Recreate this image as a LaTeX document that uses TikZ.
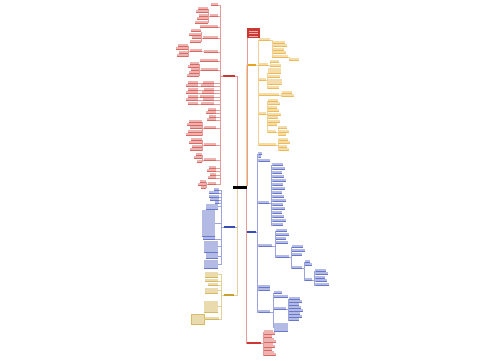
\documentclass[tikz,border=0pt]{standalone}
\definecolor{cR}{RGB}{205,55,50}
\definecolor{cO}{RGB}{228,165,35}
\definecolor{cB}{RGB}{55,75,185}
\definecolor{cY}{RGB}{200,160,45}
\tikzset{
  lf/.style={inner sep=0pt, outer sep=0pt, fill=#1!38, append after command={(\tikzlastnode.south west) edge[draw=#1!75, line width=0.35pt] (\tikzlastnode.south east)}},
  br/.style={inner sep=0pt, outer sep=0pt, fill=#1},
  cn/.style={draw=#1!50, line width=0.45pt},
}
\newcommand\nd[6]{\node[#6, minimum width={(#3-#2)*1pt}, minimum height={(#5*3-0.8)*1pt}, anchor=south west] (#1) at (#2,#4) {};}
\newcommand\kidsL[4]{\foreach \kk in {#4}{\draw[cn=#1] (#2) -- ++(-#3,0) |- (\kk);}}
\newcommand\kidsR[4]{\foreach \kk in {#4}{\draw[cn=#1] (#2) -- ++(#3,0) |- (\kk);}}
\newcommand\leavesL[7]{\foreach \yy [count=\ii] in {#7}{%
  \pgfmathsetmacro\xa{#5+mod(\ii*3,5)}%
  \nd{#4\ii}{\xa}{#6}{\yy}{1}{lf=#1}%
  \draw[cn=#1] (#2) -- ++(-#3,0) |- (#4\ii.south east);}}
\newcommand\leavesR[7]{\foreach \yy [count=\ii] in {#7}{%
  \pgfmathsetmacro\xb{#6-mod(\ii*3,5)}%
  \nd{#4\ii}{#5}{\xb}{\yy}{1}{lf=#1}%
  \draw[cn=#1] (#2) -- ++(#3,0) |- (#4\ii.south west);}}
\begin{document}
\begin{tikzpicture}[x=1pt,y=-1pt]
\fill[white] (0,0) rectangle (500,360);
\useasboundingbox (0,0) rectangle (500,360);
% root and title
\nd{root}{233}{247}{188.5}{1.2}{br=black}
\nd{title}{247}{260}{38}{3.6}{br=cR}
\foreach \yy in {31,33.5,36} \draw[cR!40, line width=0.8pt] (249,\yy) -- (258,\yy);
% main branches
\nd{RO}{247}{256}{66}{1}{br=cO}
\nd{RB}{247}{256}{233}{1}{br=cB}
\nd{RR}{247}{261}{344}{1}{br=cR}
\nd{LR}{223}{235}{77}{1}{br=cR}
\nd{LB}{224}{235}{228}{1}{br=cB}
\nd{LY}{224}{234}{296}{1}{br=cY}
\draw[cn=cR] (title.south west) -- (title.south west |- root.north);
\draw[cn=cO] ([xshift=-1pt]root.north east) |- (RO.west);
\draw[cn=cB] ([xshift=-1pt]root.south east) |- (RB.west);
\draw[cn=cR] ([xshift=-1pt]root.south east) |- (RR.west);
\draw[cn=cR] ([xshift=4pt]root.north west) |- (LR.east);
\draw[cn=cB] ([xshift=4pt]root.south west) |- (LB.east);
\draw[cn=cY] ([xshift=4pt]root.south west) |- (LY.east);
% ---------- right orange
\nd{o1}{259}{270}{40}{1}{lf=cO}
\nd{o2}{259}{268}{65}{1}{lf=cO}
\nd{o3}{259}{266}{80}{1}{lf=cO}
\nd{o4}{259}{279}{95}{1}{lf=cO}
\nd{o5}{259}{266}{114}{1}{lf=cO}
\nd{o6}{259}{276}{145}{1}{lf=cO}
\kidsR{cO}{RO.east}{2}{o1.south west,o2.south west,o3.south west,o4.south west,o5.south west,o6.south west}
\leavesR{cO}{o1.south east}{2}{o1k}{272}{288}{43,46.5,50,53.5,57}
\nd{o1x}{289}{299}{60}{1}{lf=cO}
\draw[cn=cO] (o1k5.south east) -- ++(1,0) |- (o1x.south west);
\leavesR{cO}{o2.south east}{2}{o2k}{270}{282}{62.5,66}
\nd{o3a}{268}{281}{73}{2}{lf=cO}
\nd{o3b}{268}{280}{77.5}{1}{lf=cO}
\nd{o3c}{268}{282}{84}{2}{lf=cO}
\nd{o3d}{268}{279}{88.5}{1}{lf=cO}
\kidsR{cO}{o3.south east}{1}{o3a.south west,o3b.south west,o3c.south west,o3d.south west}
\leavesR{cO}{o4.south east}{2}{o4k}{282}{295}{93,96.5}
\leavesR{cO}{o5.south east}{1}{o5k}{268}{281}{101,104.5,108,111.5,115,118.5,122,125.5}
\nd{o5x}{268}{276}{132}{1}{lf=cO}
\draw[cn=cO] (o5.south east) -- ++(1,0) |- (o5x.south west);
\leavesR{cO}{o5x.south east}{2}{o5y}{278}{290}{128.5,132,135.5}
\leavesR{cO}{o6.south east}{2}{o6k}{278}{291}{140,143.5,147,150.5}
% ---------- right blue
\nd{b1}{258}{262}{154}{1}{lf=cB}
\nd{b2}{258}{261}{157.5}{1}{lf=cB}
\nd{b3}{258}{270}{161}{1}{lf=cB}
\nd{b4}{258}{269}{203}{1}{lf=cB}
\nd{b5}{258}{272}{246}{1}{lf=cB}
\nd{b6}{258}{270}{287}{1}{lf=cB}
\nd{b7}{258}{270}{290.5}{1}{lf=cB}
\nd{b8}{258}{270}{312}{1}{lf=cB}
\kidsR{cB}{RB.east}{1.5}{b1.south west,b2.south west,b3.south west,b4.south west,b5.south west,b6.south west,b7.south west,b8.south west}
\leavesR{cB}{b4.south east}{2.5}{b4k}{272}{286}{165,169,173,177,181,185,189,193,197,201,205,209,213,217,221,225}
\leavesR{cB}{b5.south east}{3}{b5k}{276}{290}{231,235,239,243}
\nd{b5e}{276}{289}{257}{1}{lf=cB}
\draw[cn=cB] (b5.south east) -- ++(3,0) |- (b5e.south west);
\leavesR{cB}{b5e.south east}{2}{b5ek}{292}{306}{247,251,255}
\nd{b5f}{292}{302}{268}{1}{lf=cB}
\draw[cn=cB] (b5e.south east) -- ++(2,0) |- (b5f.south west);
\leavesR{cB}{b5f.south east}{2}{b5fk}{305}{313}{262,265.5}
\nd{b5g}{305}{312}{280}{1}{lf=cB}
\draw[cn=cB] (b5f.south east) -- ++(2,0) |- (b5g.south west);
\leavesR{cB}{b5g.south east}{2.5}{b5gk}{315}{329}{271,274.5,278,281.5,285}
\nd{b8a}{274}{282}{293.5}{1}{lf=cB}
\nd{b8b}{274}{288}{297}{1}{lf=cB}
\nd{b8c}{274}{286}{309}{1}{lf=cB}
\nd{b8d}{274}{288}{331}{3}{lf=cB}
\kidsR{cB}{b8.south east}{3}{b8a.south west,b8b.south west,b8c.south west,b8d.west}
\leavesR{cB}{b8c.south east}{2}{b8ck}{289}{303}{299,302,305,308,311,314,317,320.5}
% ---------- right red
\leavesR{cR}{RR.east}{2}{rrk}{264}{276}{332,334.6,337.2,339.8,342.4,345,347.6,350.2,352.8,355.4}
% ---------- left red
\nd{lr1}{211}{218}{5}{1}{lf=cR}
\nd{lr2}{210}{218}{16}{1}{lf=cR}
\nd{lr3}{200}{218}{27}{1}{lf=cR}
\nd{lr4}{203}{218}{38}{1}{lf=cR}
\nd{lr5}{204}{218}{52}{1}{lf=cR}
\nd{lr6}{200}{218}{61}{1}{lf=cR}
\nd{lr7}{201}{218}{70}{1}{lf=cR}
\nd{lr10}{204}{216}{128}{1}{lf=cR}
\nd{lr11}{204}{216}{145}{1}{lf=cR}
\nd{lr12}{204}{216}{160}{1}{lf=cR}
\nd{lr14}{208}{216}{184.5}{1}{lf=cR}
\kidsL{cR}{LR.west}{3}{lr1.south east,lr2.south east,lr3.south east,lr4.south east,lr5.south east,lr6.south east,lr7.south east,lr10.south east,lr11.south east,lr12.south east,lr14.south east}
\leavesL{cR}{lr2.south west}{2}{lr2k}{195}{208}{9,12.5,16,19.5,23}
\leavesL{cR}{lr4.south west}{2}{lr4k}{188}{201}{31.5,35,38.5,42}
\nd{lr5a}{190}{202}{51}{1}{lf=cR}
\draw[cn=cR] (lr5.south west) -- (lr5a.south east);
\leavesL{cR}{lr5a.south west}{2}{lr5k}{175}{188}{46,49.5,53,56.5}
\leavesL{cR}{lr7.south west}{2}{lr7k}{187}{199}{64,67,70,73,76}
\foreach \yy [count=\ii] in {83,86.5,90,93.5,97,100.5,104}{%
  \pgfmathsetmacro\xa{200+mod(\ii*3,5)}%
  \pgfmathsetmacro\xc{186+mod(\ii*2,4)}%
  \nd{lrp\ii}{\xa}{214}{\yy}{1}{lf=cR}%
  \nd{lrq\ii}{\xc}{198}{\yy}{1}{lf=cR}%
  \draw[cn=cR] (lrp\ii.south west) -- (lrq\ii.south east);
  \draw[cn=cR] (LR.west) -- ++(-3,0) |- (lrp\ii.south east);}
\leavesL{cR}{LR.west}{3}{lr9k}{205}{216}{110,113.5,117,120.5}
\leavesL{cR}{lr10.south west}{2}{lr10k}{186}{202}{122,125,128.5,132,135.5}
\leavesL{cR}{lr11.south west}{2}{lr11k}{188}{202}{140,143.5,147,150.5}
\leavesL{cR}{lr12.south west}{2}{lr12k}{193}{202}{155,158.5,162}
\leavesL{cR}{LR.west}{3}{lr13k}{206}{216}{168,171.5,175,178.5}
\leavesL{cR}{lr14.south west}{2}{lr14k}{197}{206}{182,185,188}
% ---------- left blue
\nd{lb1}{214}{219}{190}{1}{lf=cB}
\nd{lb2}{209}{219}{193.5}{1}{lf=cB}
\nd{lb3}{209}{219}{197}{1}{lf=cB}
\nd{lb4}{210}{219}{200.5}{1}{lf=cB}
\nd{lb5}{215}{219}{203.5}{1}{lf=cB}
\nd{lb6}{206}{218}{209}{2}{lf=cB}
\nd{lb7}{202}{215}{236}{9}{lf=cB}
\nd{lb8}{203}{215}{239.5}{1}{lf=cB}
\nd{lb9}{204}{218}{252}{4}{lf=cB}
\nd{lb10}{206}{218}{258.5}{2}{lf=cB}
\nd{lb11}{204}{218}{268}{3}{lf=cB}
\kidsL{cB}{LB.west}{3}{lb1.south east,lb2.south east,lb3.south east,lb4.south east,lb5.south east,lb6.east,lb7.east,lb8.south east,lb9.east,lb10.east,lb11.east}
% ---------- left yellow
\nd{ly1}{205}{218}{277}{2}{lf=cY}
\nd{ly2}{205}{218}{281}{1}{lf=cY}
\nd{ly3}{208}{218}{285}{1}{lf=cY}
\nd{ly4}{205}{218}{293}{2}{lf=cY}
\nd{ly5}{204}{218}{312}{4}{lf=cY}
\nd{ly6}{205}{219}{319}{1}{lf=cY}
\nd{ly6a}{191}{204}{324}{3.6}{lf=cY, draw=cY!70, line width=0.3pt}
\kidsL{cY}{LY.west}{3}{ly1.east,ly2.south east,ly3.south east,ly4.east,ly5.east,ly6.south east}
\draw[cn=cY] (ly6.south west) -- (ly6a.east);
\end{tikzpicture}
\end{document}
